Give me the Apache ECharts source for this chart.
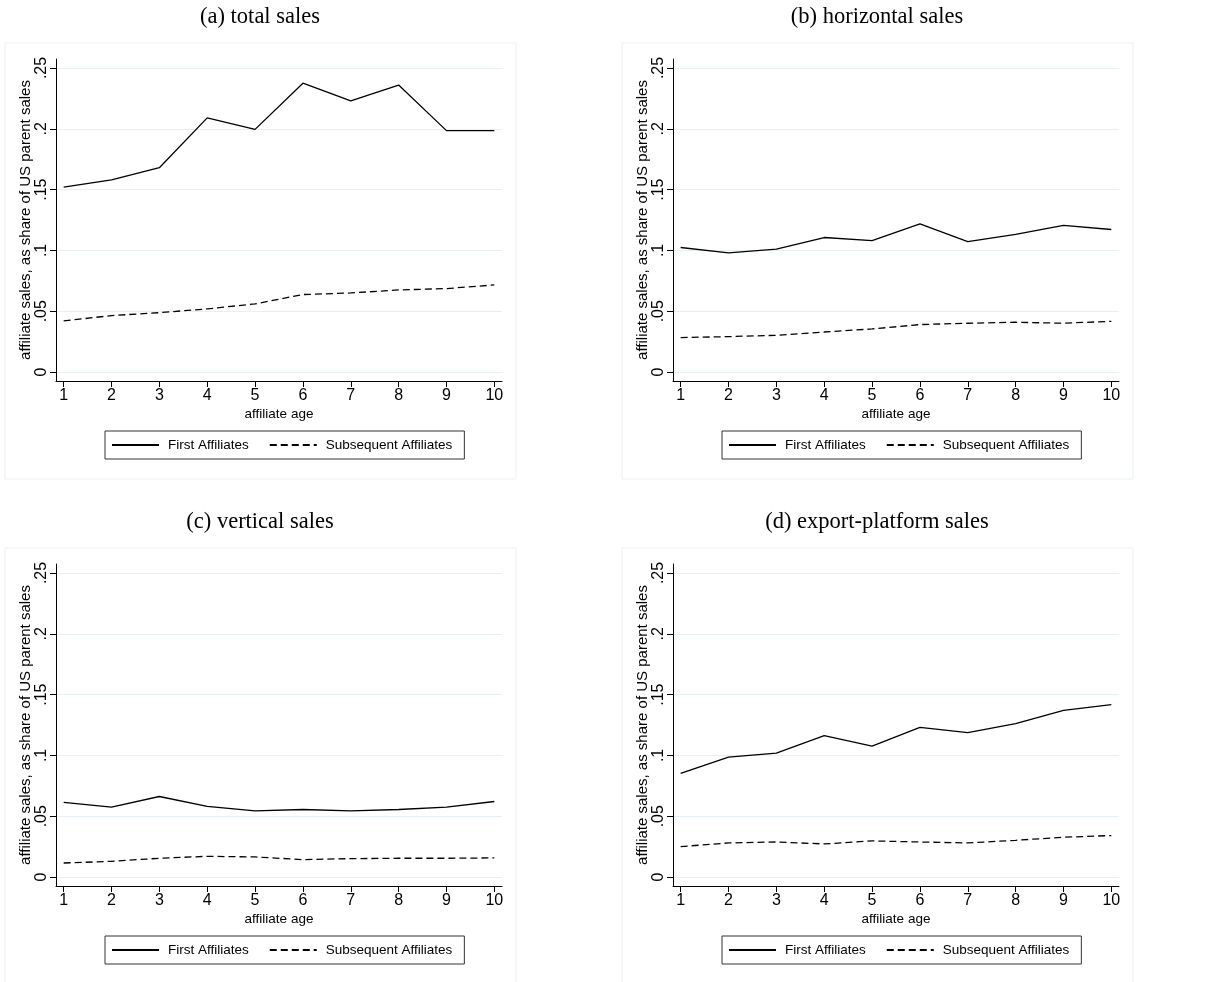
<!DOCTYPE html>
<html>
<head>
<meta charset="utf-8">
<script src="https://cdn.jsdelivr.net/npm/echarts@6/dist/echarts.min.js"></script>
<style>
  html, body { margin: 0; padding: 0; background: #fff; }
  #chart { width: 1228px; height: 982px; }
</style>
</head>
<body>
<div id="chart"></div>
<script>
// Affiliate age (years since the affiliate was established)
const ages = [1, 2, 3, 4, 5, 6, 7, 8, 9, 10];

const panelTitles = ['(a) total sales', '(b) horizontal sales', '(c) vertical sales', '(d) export-platform sales'];
const seriesNames = ['First Affiliates', 'Subsequent Affiliates'];

// Affiliate sales as a share of US parent sales
const totalFirst       = [0.152, 0.158, 0.168, 0.209, 0.1995, 0.2375, 0.223, 0.236, 0.1985, 0.1985];
const totalSubsequent  = [0.042, 0.0464, 0.0488, 0.0519, 0.056, 0.0637, 0.065, 0.0675, 0.0686, 0.0716];
const horizFirst       = [0.1024, 0.098, 0.101, 0.1106, 0.1081, 0.1218, 0.1073, 0.1131, 0.1205, 0.1172];
const horizSubsequent  = [0.0283, 0.0291, 0.0302, 0.0329, 0.0354, 0.039, 0.0401, 0.0409, 0.0401, 0.0417];
const vertFirst        = [0.0613, 0.0574, 0.0662, 0.058, 0.0544, 0.0555, 0.0544, 0.0555, 0.0574, 0.0621];
const vertSubsequent   = [0.0115, 0.0129, 0.0154, 0.017, 0.0165, 0.0143, 0.0151, 0.0154, 0.0154, 0.0157];
const exportFirst      = [0.0852, 0.0986, 0.1019, 0.1162, 0.1077, 0.1231, 0.1187, 0.1261, 0.1371, 0.1418];
const exportSubsequent = [0.025, 0.028, 0.0288, 0.0272, 0.0297, 0.0288, 0.028, 0.0302, 0.0327, 0.0341];

const yTickValues = [0, 0.05, 0.1, 0.15, 0.2, 0.25];
const yTickLabels = ['0', '.05', '.1', '.15', '.2', '.25'];

const xAxisTitle = 'affiliate age';
const yAxisTitle = 'affiliate sales, as share of US parent sales';

const panelData = [
  [totalFirst, totalSubsequent],
  [horizFirst, horizSubsequent],
  [vertFirst, vertSubsequent],
  [exportFirst, exportSubsequent]
];

// Layout of the 2x2 panel grid (pixels)
const plotW = 446, plotH = 322;
const plotOrigins = [[56, 59], [673, 59], [56, 564], [673, 564]];
const sansFont = "'Liberation Sans', Arial, sans-serif";
const serifFont = "'Liberation Serif', 'DejaVu Serif', serif";

const gridColor = '#e6eff1';
const frameColor = '#e9f1f3';

function yLabel(v) {
  let best = 0;
  yTickValues.forEach((t, i) => { if (Math.abs(t - v) < Math.abs(yTickValues[best] - v)) best = i; });
  return yTickLabels[best];
}

const grids = [], xAxes = [], yAxes = [], series = [], legends = [], graphics = [];

plotOrigins.forEach(([left, top], i) => {
  grids.push({ left: left, top: top, width: plotW, height: plotH, containLabel: false });

  xAxes.push({
    type: 'value', gridIndex: i, min: 0.84, max: 10.16,
    name: xAxisTitle, nameLocation: 'middle', nameGap: 26,
    nameTextStyle: { fontFamily: sansFont, fontSize: 13.5, color: '#000' },
    axisLine: { show: true, onZero: false, lineStyle: { color: '#000', width: 1 } },
    axisTick: { show: true, length: 6, customValues: ages, lineStyle: { color: '#000' } },
    axisLabel: { customValues: ages, margin: 7, fontFamily: sansFont, fontSize: 16, color: '#000' },
    splitLine: { show: false }
  });

  yAxes.push({
    type: 'value', gridIndex: i, min: -0.0074, max: 0.2574,
    name: yAxisTitle, nameLocation: 'middle', nameGap: 20, nameRotate: 90,
    nameTextStyle: { fontFamily: sansFont, fontSize: 15, color: '#000' },
    axisLine: { show: true, onZero: false, lineStyle: { color: '#000', width: 1 } },
    axisTick: { show: true, length: 6, customValues: yTickValues, lineStyle: { color: '#000' } },
    axisLabel: { customValues: yTickValues, rotate: 90, margin: 6, formatter: yLabel,
                 fontFamily: sansFont, fontSize: 16, color: '#000' },
    splitLine: { show: true, lineStyle: { color: gridColor, width: 1 } }
  });

  panelData[i].forEach((vals, k) => {
    series.push({
      name: seriesNames[k], type: 'line', xAxisIndex: i, yAxisIndex: i,
      data: ages.map((a, j) => [a, vals[j]]),
      symbol: 'none', silent: true, animation: false,
      lineStyle: { color: '#000', width: 1.3, type: k === 0 ? 'solid' : [7, 4] },
      itemStyle: { color: '#000' }
    });
  });

  legends.push({
    data: seriesNames, left: left + 49, top: top + 372,
    orient: 'horizontal', itemWidth: 47, itemHeight: 14, itemGap: 20,
    padding: [7, 12, 7, 6], borderColor: '#333', borderWidth: 1,
    backgroundColor: '#fff', selectedMode: false,
    itemStyle: { opacity: 0, borderWidth: 0 },
    textStyle: { fontFamily: sansFont, fontSize: 13.5, color: '#000', padding: [0, 0, 0, 4] }
  });

  // faint outer frame around each panel
  graphics.push({
    type: 'rect', silent: true, z: -10,
    shape: { x: left - 51, y: top - 16, width: 511, height: 436 },
    style: { fill: 'none', stroke: frameColor, lineWidth: 1 }
  });

  // panel caption
  graphics.push({
    type: 'text', silent: true,
    x: left + 204, y: top - 42,
    style: { text: panelTitles[i], font: '22.5px ' + serifFont, fill: '#000',
             textAlign: 'center', textVerticalAlign: 'middle' }
  });
});

const chart = echarts.init(document.getElementById('chart'), null, { renderer: 'canvas' });
chart.setOption({
  backgroundColor: '#fff',
  animation: false,
  grid: grids,
  xAxis: xAxes,
  yAxis: yAxes,
  legend: legends,
  series: series,
  graphic: graphics
});
</script>
</body>
</html>
